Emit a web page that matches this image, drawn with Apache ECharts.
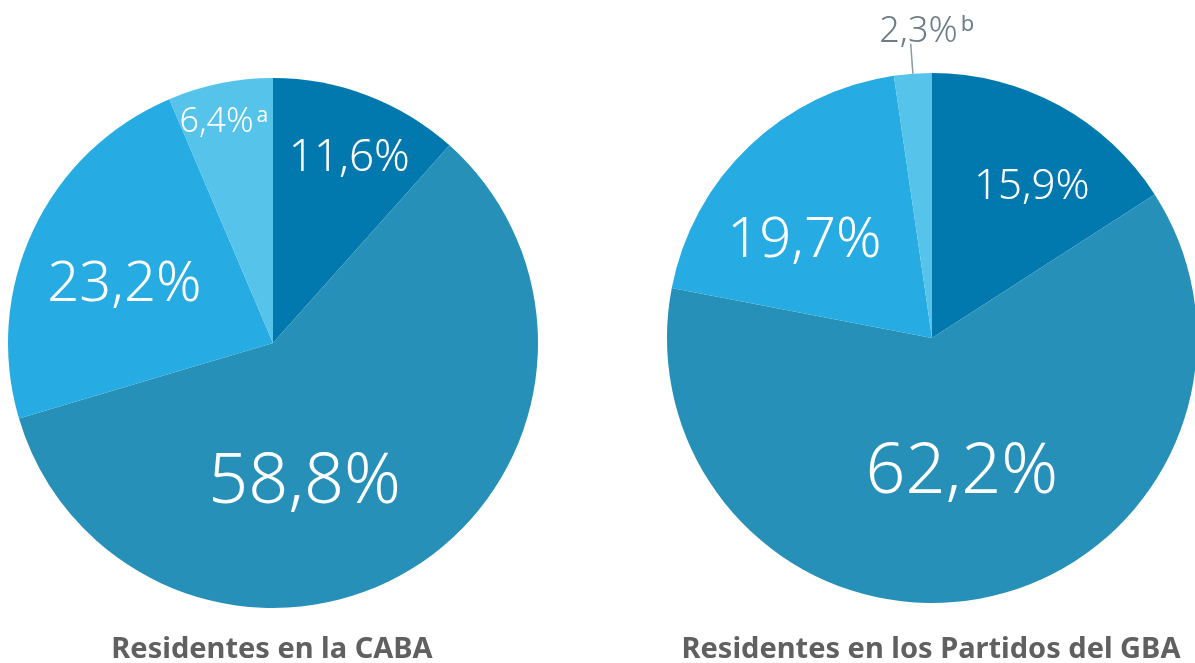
<!DOCTYPE html>
<html>
<head>
<meta charset="utf-8">
<script src="https://cdn.jsdelivr.net/npm/echarts@6/dist/echarts.min.js"></script>
<style>
  html, body { margin: 0; padding: 0; background: #fff; }
  #dataView { width: 1195px; height: 663px; }
</style>
</head>
<body>
<div id="dataView"></div>
<script>
// datos de los dos gráficos
var cabaNames = ['a', 'b', 'c', 'd'];
var cabaValues = [11.6, 58.8, 23.2, 6.4];
var gbaNames = ['a', 'b', 'c', 'd'];
var gbaValues = [15.9, 62.2, 19.7, 2.3];
var notes = ['a', 'b'];
var titles = ['Residentes en la CABA', 'Residentes en los Partidos del GBA'];

var colors = ['#0279ae', '#2790b8', '#26abe2', '#55c3ea'];
var font = '"Noto Sans", "Open Sans", sans-serif';

function fmt(v) {
	return String(v.toFixed(1)).replace('.', ',');
}

// estilo de etiqueta por porción
var cabaLabels = [
	{ size: 44, offset: [28, -58] },
	{ size: 70, offset: [-41, 26] },
	{ size: 56, offset: [-26, 0] },
	{ size: 34, offset: [-22, -88], sup: notes[0] }
];
var gbaLabels = [
	{ size: 42, offset: [35, -32] },
	{ size: 70, offset: [4, 2] },
	{ size: 56, offset: [-34, 1] },
	{ size: 36, outside: true, sup: notes[1] }
];

function buildData(values, labels) {
	return values.map(function (v, i) {
		var l = labels[i];
		var txt = '{n|' + fmt(v) + '%}' + (l.sup ? '{s|' + l.sup + '}' : '');
		var item = {
			value: v,
			name: String(i),
			itemStyle: { color: colors[i] },
			label: {
				show: true,
				position: l.outside ? 'outside' : 'inside',
				formatter: txt,
				offset: l.offset || [0, 0],
				rich: {
					n: {
						fontFamily: font,
						fontSize: l.size,
						color: l.outside ? '#6d7d88' : '#ffffff',
						fontWeight: 300
					},
					s: {
						fontFamily: font,
						fontSize: Math.round(l.size * 0.62),
						color: l.outside ? '#6d7d88' : '#ffffff',
						verticalAlign: 'top',
						padding: [0, 0, 0, 3]
					}
				}
			},
			labelLine: {
				show: !!l.outside,
				length: 30,
				length2: 0,
				lineStyle: { color: '#8a9aa5', width: 1.5 }
			}
		};
		return item;
	});
}

var dataViewcharts = echarts.init(document.getElementById('dataView'));
var dataViewoption = {
	animation: false,
	title: [
		{
			text: titles[0],
			left: 267,
			top: 630,
			textAlign: 'center',
			textStyle: { fontFamily: font, fontSize: 29, fontWeight: 'bold', color: '#606060' }
		},
		{
			text: titles[1],
			left: 926,
			top: 630,
			textAlign: 'center',
			textStyle: { fontFamily: font, fontSize: 29, fontWeight: 'bold', color: '#606060' }
		}
	],
	series: [
		{
			type: 'pie',
			center: [273, 343],
			radius: 265,
			startAngle: 90,
			clockwise: true,
			silent: true,
			data: buildData(cabaValues, cabaLabels)
		},
		{
			type: 'pie',
			center: [932, 338],
			radius: 265,
			startAngle: 90,
			clockwise: true,
			silent: true,
			labelLayout: function (params) {
				if (params.dataIndex === 3) {
					return { align: 'center', verticalAlign: 'bottom', dx: 21, dy: 6 };
				}
			},
			data: buildData(gbaValues, gbaLabels)
		}
	]
};
dataViewcharts.setOption(dataViewoption);
</script>
</body>
</html>
